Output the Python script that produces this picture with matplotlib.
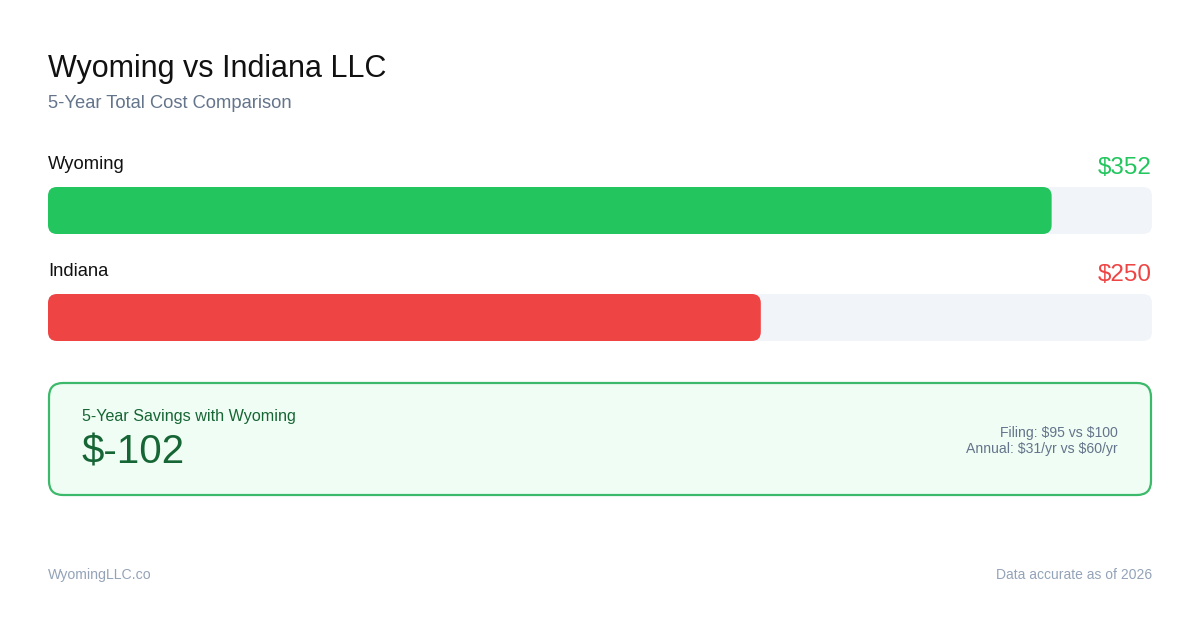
import matplotlib
matplotlib.use("Agg")
import matplotlib.pyplot as plt
from matplotlib.patches import FancyBboxPatch

plt.rcParams['font.family'] = ['Liberation Sans', 'DejaVu Sans']
plt.rcParams['text.parse_math'] = False

# data
states = ["Wyoming", "Indiana"]
totals = [352, 250]
bar_colors = ["#22c55e", "#ef4444"]
filing_fees = [95, 100]
annual_fees = [31, 60]
savings = totals[1] - totals[0]

W, H = 1200, 630
fig = plt.figure(figsize=(12, 6.3), dpi=100)
fig.patch.set_facecolor("white")

# pixel-space axes for the text and the savings box
ax = fig.add_axes([0, 0, 1, 1])
ax.set_xlim(0, W)
ax.set_ylim(H, 0)
ax.axis("off")

ax.text(48, 77, "Wyoming vs Indiana LLC", fontsize=22, color="#111111",
        va="baseline")
ax.text(48, 108, "5-Year Total Cost Comparison", fontsize=13.2,
        color="#64748b", va="baseline")

# bar axes: x in dollars, y in pixels
left, right = 48, 1152
top, bottom = 140, 345
bx = fig.add_axes([left / W, 1 - bottom / H, (right - left) / W,
                   (bottom - top) / H])
scale_max = max(totals) * 1.1
bx.set_xlim(0, scale_max)
bx.set_ylim(bottom, top)
bx.axis("off")

px = scale_max / (right - left)   # dollars per pixel
bar_h = 47
radius = 9
row_tops = [187, 294]
for state, val, col, y0 in zip(states, totals, bar_colors, row_tops):
    track = FancyBboxPatch((0, y0), scale_max, bar_h,
                           boxstyle="round,pad=0,rounding_size=%f" % (radius * px),
                           mutation_aspect=1 / px, fc="#f1f5f9", ec="none")
    bx.add_patch(track)
    bar = FancyBboxPatch((0, y0), val, bar_h,
                         boxstyle="round,pad=0,rounding_size=%f" % (radius * px),
                         mutation_aspect=1 / px, fc=col, ec="none")
    bx.add_patch(bar)
    bx.text(0, y0 - 18, state, fontsize=13.2, color="#111111", va="baseline")
    bx.text(scale_max, y0 - 13, "$%d" % val, fontsize=17.5, color=col,
            ha="right", va="baseline")

# savings box
box = FancyBboxPatch((49, 383), 1102, 112,
                     boxstyle="round,pad=0,rounding_size=14",
                     fc="#f0fdf4", ec="#3cb96a", lw=1.6)
ax.add_patch(box)
ax.text(82, 421, "5-Year Savings with Wyoming", fontsize=11.6, color="#166534",
        va="baseline")
ax.text(81, 463, "$%d" % savings, fontsize=29, color="#166534",
        va="baseline")
ax.text(1118, 437, "Filing: $%d vs $%d" % tuple(filing_fees), fontsize=10.1,
        color="#64748b", ha="right", va="baseline")
ax.text(1118, 453, "Annual: $%d/yr vs $%d/yr" % tuple(annual_fees),
        fontsize=10.1, color="#64748b", ha="right", va="baseline")

# footer
ax.text(48, 579, "WyomingLLC.co", fontsize=10.2, color="#94a3b8",
        va="baseline")
ax.text(1152, 579, "Data accurate as of 2026", fontsize=10, color="#94a3b8",
        ha="right", va="baseline")

fig.savefig("out.png", dpi=100, facecolor="white")
